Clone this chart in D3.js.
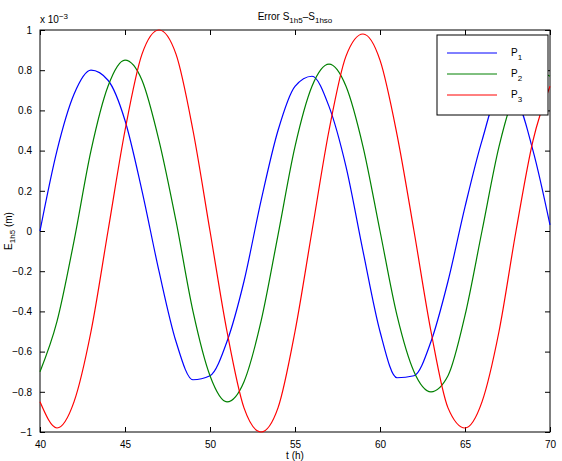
<!DOCTYPE html>
<html><head><meta charset="utf-8">
<script src="https://cdn.jsdelivr.net/npm/d3@7"></script>
<style>body{margin:0;background:#fff}text{font-family:"Liberation Sans",Arial,sans-serif;font-size:10px}</style>
</head><body><div id="chart"></div>
<script>
var times = d3.range(40, 71);
var p1 = [0,0.4,0.68,0.8,0.75,0.55,0.2,-0.2,-0.55,-0.74,-0.72,-0.55,-0.25,0.15,0.5,0.72,0.77,0.62,0.32,-0.1,-0.5,-0.73,-0.72,-0.55,-0.25,0.12,0.45,0.68,0.65,0.4,0.03];
var p2 = [-0.7,-0.45,-0.05,0.4,0.72,0.85,0.75,0.45,0.05,-0.4,-0.72,-0.85,-0.75,-0.45,-0.02,0.42,0.72,0.83,0.72,0.42,0,-0.42,-0.7,-0.8,-0.72,-0.42,0,0.42,0.7,0.8,0.77];
var p3 = [-0.85,-0.98,-0.85,-0.5,0,0.5,0.88,1,0.88,0.5,0,-0.5,-0.88,-1,-0.88,-0.5,0,0.5,0.87,0.98,0.85,0.48,0,-0.5,-0.88,-0.98,-0.85,-0.5,0,0.45,0.72];
var seriesNames = ["1", "2", "3"];
var colors = ["#0000ff", "#008000", "#ff0000"];
var xTicks = [40,45,50,55,60,65,70];
var yTicks = [-1,-0.8,-0.6,-0.4,-0.2,0,0.2,0.4,0.6,0.8,1];

var svgwidth = 562, svgheight = 461;
var margin = {top: 30, right: 12, bottom: 29, left: 40};
var width = svgwidth - margin.left - margin.right;
var height = svgheight - margin.top - margin.bottom;

var svg = d3.select("#chart").append("svg").attr("width", svgwidth).attr("height", svgheight);
var g = svg.append("g").attr("transform", "translate(" + margin.left + "," + margin.top + ")");

var x = d3.scaleLinear().domain([40, 70]).range([0, width]);
var y = d3.scaleLinear().domain([-1, 1]).range([height, 0]);

g.append("rect").attr("width", width).attr("height", height).attr("fill", "none").attr("stroke", "#000");

// ticks inward, all four sides
g.append("g").attr("transform", "translate(0," + height + ")")
  .call(d3.axisBottom(x).tickValues(xTicks).tickSizeInner(-5).tickSizeOuter(0).tickPadding(9));
g.append("g").call(d3.axisTop(x).tickValues(xTicks).tickSizeInner(-5).tickSizeOuter(0).tickFormat(""));
g.append("g").call(d3.axisLeft(y).tickValues(yTicks).tickSizeInner(-5).tickSizeOuter(0).tickPadding(8).tickFormat(d3.format("")));
g.append("g").attr("transform", "translate(" + width + ",0)")
  .call(d3.axisRight(y).tickValues(yTicks).tickSizeInner(-5).tickSizeOuter(0).tickFormat(""));
g.selectAll(".domain").remove();
g.selectAll(".tick text").attr("fill", "#000");

var line = d3.line().x(function(d){ return x(d[0]); }).y(function(d){ return y(d[1]); }).curve(d3.curveMonotoneX);
[p1, p2, p3].forEach(function(s, i){
  g.append("path").datum(times.map(function(t, j){ return [t, s[j]]; }))
    .attr("d", line).attr("fill", "none").attr("stroke", colors[i]).attr("stroke-width", 1.2);
});

// legend
var lg = g.append("g").attr("transform", "translate(" + (width - 113) + ",5)");
lg.append("rect").attr("width", 111).attr("height", 80).attr("fill", "#fff").attr("stroke", "#000");
seriesNames.forEach(function(n, i){
  var yy = 18 + i * 21;
  lg.append("line").attr("x1", 10).attr("x2", 60).attr("y1", yy).attr("y2", yy).attr("stroke", colors[i]);
  var t = lg.append("text").attr("x", 74).attr("y", yy + 3);
  t.append("tspan").text("P");
  t.append("tspan").attr("dy", 4).attr("font-size", "8px").text(n);
});

// title
var title = svg.append("text").attr("x", margin.left + width / 2).attr("y", 20).attr("text-anchor", "middle");
title.append("tspan").text("Error S");
title.append("tspan").attr("dy", 3).attr("font-size", "8px").text("1h5");
title.append("tspan").attr("dy", -3).text("\u2013S");
title.append("tspan").attr("dy", 3).attr("font-size", "8px").text("1hso");

svg.append("text").attr("x", margin.left + width / 2).attr("y", svgheight - 2).attr("text-anchor", "middle").text("t (h)");

var yl = svg.append("text").attr("transform", "translate(12," + (margin.top + height / 2) + ") rotate(-90)").attr("text-anchor", "middle");
yl.append("tspan").text("E");
yl.append("tspan").attr("dy", 3).attr("font-size", "8px").text("1h5");
yl.append("tspan").attr("dy", -3).text(" (m)");

var ex = svg.append("text").attr("x", 40).attr("y", 23);
ex.append("tspan").text("x 10");
ex.append("tspan").attr("dy", -4).attr("font-size", "8px").text("\u22123");
</script></body></html>
